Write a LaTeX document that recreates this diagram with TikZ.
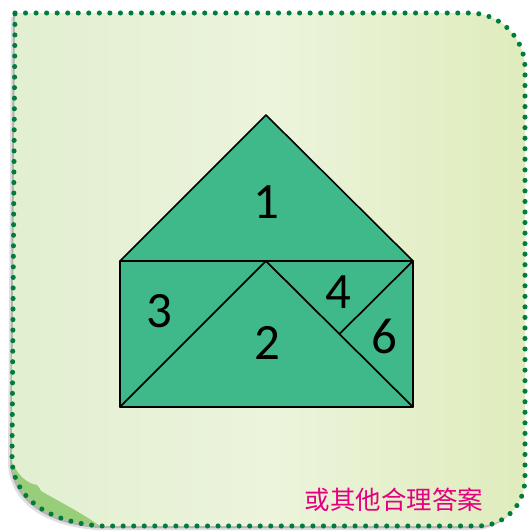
\documentclass[tikz,border=0pt]{standalone}
\usepackage{fontspec}
\newfontfamily\digitfont{Carlito}
\newfontfamily\cjk{Noto Sans CJK SC}
\usetikzlibrary{positioning}
\definecolor{piece}{RGB}{64,185,138}
\definecolor{dotgreen}{RGB}{0,125,60}
\definecolor{paperL}{RGB}{226,239,208}
\definecolor{paperM}{RGB}{236,244,220}
\definecolor{paperR}{RGB}{223,236,188}
\definecolor{flap}{RGB}{152,205,122}
\definecolor{answer}{RGB}{228,0,127}
\newcommand{\framepath}{(15,13) -- (470,13) .. controls (500,13) and (525,38) .. (525,68)
  -- (525,478) .. controls (525,505) and (505,526) .. (478,526)
  -- (100,526) .. controls (50,522) and (14,500) .. (12,460) -- cycle}
\tikzset{
  num/.style={font=\digitfont\fontsize{29}{30}\selectfont, inner sep=0pt},
  tile/.style={fill=piece, draw=black, line width=0.9pt, line join=round},
  answertext/.style={font=\cjk\fontsize{14.5}{16}\selectfont, text=answer, inner sep=0pt}
}
\begin{document}
\begin{tikzpicture}[x=0.02cm,y=-0.02cm]
  \useasboundingbox (0,0) rectangle (529,531);
  % shadow and paper
  \fill[black!12, shift={(-4,4)}] \framepath;
  \fill[black!30, shift={(-2,2)}] \framepath;
  \shade[left color=paperL, right color=paperR, middle color=paperM] \framepath;
  % curled corner
  \fill[flap] (12,462) .. controls (18,476) and (28,484) .. (37,485)
    .. controls (40,487) and (39,489) .. (41,491)
    .. controls (60,502) and (80,512) .. (100,526)
    .. controls (50,522) and (14,500) .. (12,460) -- cycle;
  \draw[dotgreen, line width=2.9pt, line cap=round, dash pattern=on 0pt off 6pt] \framepath;

  % house
  \coordinate (top) at (266,115);
  \coordinate (ul) at (120,261);
  \coordinate (ur) at (413,261);
  \coordinate (ll) at (120,407);
  \coordinate (lr) at (413,407);
  \coordinate (um) at (266,261);
  \coordinate (cut) at (339.5,334);
  \draw[tile] (top) -- (ur) -- (ul) -- cycle;
  \draw[tile] (ul) -- (um) -- (ll) -- cycle;
  \draw[tile] (ll) -- (um) -- (lr) -- cycle;
  \draw[tile] (um) -- (ur) -- (cut) -- cycle;
  \draw[tile] (cut) -- (ur) -- (lr) -- cycle;

  \node[num] (n1) at (266,202) {1};
  \node[num] (n2) at (267,343) {2};
  \node[num] (n3) at (159,311) {3};
  \node[num] (n4) at (338,292) {4};
  \node[num] (n6) at (384,336) {6};

  \node[answertext] (note) at (394,500) {或其他合理答案};
\end{tikzpicture}
\end{document}
